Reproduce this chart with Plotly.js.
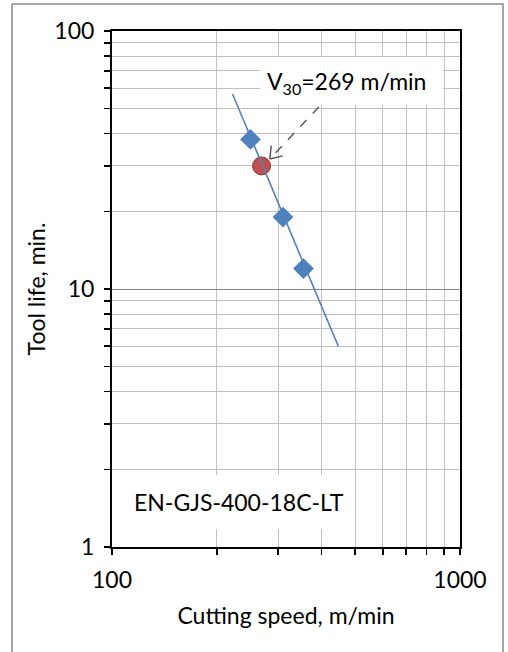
<!DOCTYPE html>
<html>
<head>
<meta charset="utf-8">
<script src="https://cdn.plot.ly/plotly-3.0.1.min.js"></script>
<style>html,body{margin:0;padding:0;background:#fff;}#chart{width:508px;height:652px;}</style>
</head>
<body>
<div id="chart"></div>
<script>
// measured test points
const speedV = [250, 310, 355];
const lifeT = [38, 19, 12];
// V30 point
const v30V = [269];
const v30T = [30];
// fitted trend line end points
const trendV = [222, 447];
const trendT = [57, 6];
// dashed pointer (from label box to V30 point)
const pointerV = [393, 284];
const pointerT = [50.8, 31.9];
// ticks
const xTickVals = [100, 1000];
const xTickText = ['100', '1000'];
const xMinorVals = [200, 300, 400, 500, 600, 700, 800, 900];
const yTickVals = [1, 10, 100];
const yTickText = ['1', '10', '100'];
const yMinorVals = [2, 3, 4, 5, 6, 7, 8, 9, 20, 30, 40, 50, 60, 70, 80, 90];
const xTitle = 'Cutting speed, m/min';
const yTitle = 'Tool life, min.';
const labelV30 = 'V<sub>30</sub>=269 m/min';
const labelMat = 'EN-GJS-400-18C-LT';

const FONT = 'Lato, "Open Sans", sans-serif';
const FS = 23;
const blue = '#4F81BD';

const traces = [
  {x: v30V, y: v30T, type: 'scatter', mode: 'markers', hoverinfo: 'skip',
   marker: {symbol: 'circle', size: 18, color: '#C0504D', line: {color: '#8C3836', width: 1}}},
  {x: trendV, y: trendT, type: 'scatter', mode: 'lines', hoverinfo: 'skip',
   line: {color: blue, width: 1.6}},
  {x: speedV, y: lifeT, type: 'scatter', mode: 'markers', hoverinfo: 'skip',
   marker: {symbol: 'diamond', size: 16, color: blue, line: {width: 0}}},
  {x: pointerV, y: pointerT, type: 'scatter', mode: 'lines', hoverinfo: 'skip',
   line: {color: '#595959', width: 1.5, dash: 'dash'}}
];

const axisCommon = {
  type: 'log', showline: true, linecolor: '#000', linewidth: 2, mirror: true,
  ticks: 'outside', ticklen: 6, tickwidth: 1.5, tickcolor: '#000',
  showgrid: true, gridcolor: '#868686', gridwidth: 1, zeroline: false,
  tickfont: {family: FONT, size: FS, color: '#000'}, tickmode: 'array'
};

const layout = {
  width: 508, height: 652,
  margin: {l: 112, r: 48, t: 31, b: 105},
  paper_bgcolor: '#fff', plot_bgcolor: '#fff',
  showlegend: false,
  xaxis: Object.assign({}, axisCommon, {
    range: [2, 3], tickvals: xTickVals, ticktext: xTickText, ticklabelstandoff: 5,
    minor: {tickmode: 'array', tickvals: xMinorVals, ticks: 'outside', ticklen: 6, tickwidth: 1.5, tickcolor: '#000', showgrid: true, gridcolor: '#C0C0C0', gridwidth: 1},
    title: {text: xTitle, font: {family: FONT, size: FS, color: '#000'}, standoff: 16}
  }),
  yaxis: Object.assign({}, axisCommon, {
    range: [0, 2], tickvals: yTickVals, ticktext: yTickText, ticklabelstandoff: 5,
    minor: {tickmode: 'array', tickvals: yMinorVals, ticks: 'outside', ticklen: 6, tickwidth: 1.5, tickcolor: '#000', showgrid: true, gridcolor: '#C0C0C0', gridwidth: 1},
    title: {text: yTitle, font: {family: FONT, size: FS, color: '#000'}, standoff: 2}
  }),
  shapes: [
    {type: 'rect', xref: 'paper', yref: 'paper', x0: 0.4253, x1: 0.9511, y0: 0.8566, y1: 0.9496,
     fillcolor: '#fff', line: {width: 0}, layer: 'above'},
    {type: 'rect', xref: 'paper', yref: 'paper', x0: 0.006, x1: 0.684, y0: 0.0349, y1: 0.1395,
     fillcolor: '#fff', line: {width: 0}, layer: 'above'},
    {type: 'rect', xref: 'paper', yref: 'paper', x0: -0.2874, x1: 1.1236, y0: -0.22, y1: 1.0523,
     fillcolor: 'rgba(0,0,0,0)', line: {color: '#8C8C8C', width: 1.5}, layer: 'below'}
  ],
  annotations: [
    {xref: 'paper', yref: 'paper', x: 0.674, y: 0.901, text: labelV30, showarrow: false,
     xanchor: 'center', yanchor: 'middle', font: {family: FONT, size: FS, color: '#000'}},
    {xref: 'paper', yref: 'paper', x: 0.365, y: 0.087, text: labelMat, showarrow: false,
     xanchor: 'center', yanchor: 'middle', font: {family: FONT, size: FS, color: '#000'}},
    // open arrow head at the V30 point
    {x: Math.log10(pointerV[1]), y: Math.log10(pointerT[1]), text: '', showarrow: true, arrowhead: 0,
     arrowwidth: 1.5, arrowcolor: '#595959', ax: 14.6, ay: -3.5},
    {x: Math.log10(pointerV[1]), y: Math.log10(pointerT[1]), text: '', showarrow: true, arrowhead: 0,
     arrowwidth: 1.5, arrowcolor: '#595959', ax: 1.7, ay: -14.9}
  ]
};

Plotly.newPlot('chart', traces, layout, {displayModeBar: false, staticPlot: true});
</script>
</body>
</html>
